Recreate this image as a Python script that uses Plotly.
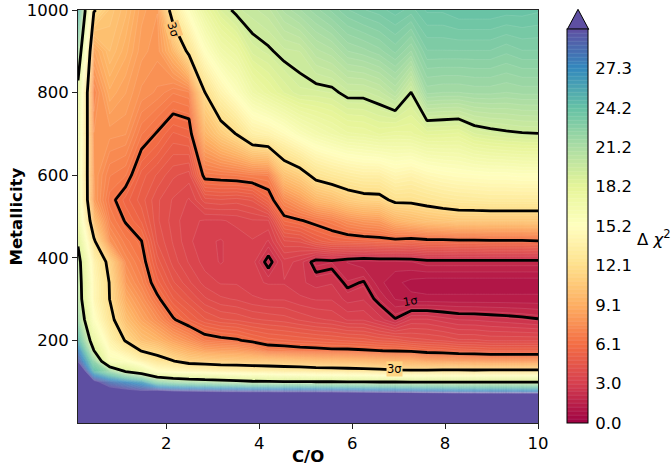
import plotly.graph_objects as go

# ---------------- data ----------------
co_values = [0.100, 0.441, 0.783, 1.124, 1.466, 1.807, 2.148, 2.490, 2.831, 3.172,
             3.514, 3.855, 4.197, 4.538, 4.879, 5.221, 5.562, 5.903, 6.245, 6.586,
             6.928, 7.269, 7.610, 7.952, 8.293, 8.634, 8.976, 9.317, 9.659, 10.000]

metallicity_values = [0, 50, 75, 100, 125, 150, 175, 200, 250, 300,
                      340, 390, 440, 490, 540, 600, 700, 800, 900, 1000]

# Delta chi^2, one list per C/O column, ordered like metallicity_values
dchi2_columns = [
    [300, 120, 70, 45, 35, 30.0, 28.0, 25.1, 22.0, 20.8, 20.6, 20.3, 19.0, 17.5, 17.0, 17.0, 17.5, 18.3, 21.8, 25.5],
    [300, 80, 40, 31.0, 25.0, 22.5, 19.4, 17.5, 15.5, 14.5, 14.5, 14.0, 12.2, 10.0, 8.3, 8.2, 7.9, 7.3, 8.7, 12.0],
    [300, 60, 32, 28.5, 22.0, 15.8, 15.0, 14.0, 12.5, 11.8, 11.72, 11.15, 7.85, 7.0, 6.5, 7.0, 8.0, 9.0, 10.0, 10.5],
    [250, 50, 31.5, 27.2, 19.2, 15.5, 13.5, 11.67, 10.1, 9.0, 8.2, 7.5, 6.8, 6.1, 5.6, 6.7, 7.9, 8.5, 9.2, 9.8],
    [250, 48, 31.0, 26.0, 17.5, 14.0, 11.74, 10.2, 8.7, 7.8, 7.1, 6.6, 6.2, 5.4, 5.0, 5.3, 6.7, 7.8, 8.3, 8.6],
    [250, 46, 31.8, 22.5, 15.3, 12.6, 11.2, 9.5, 7.6, 6.4, 5.6, 5.0, 4.5, 4.3, 4.3, 4.8, 6.1, 7.5, 8.0, 8.2],
    [250, 45, 31.2, 21.5, 14.8, 11.9, 10.0, 8.5, 6.3, 5.2, 4.6, 4.1, 3.9, 3.8, 3.9, 4.3, 5.4, 7.0, 9.5, 13.0],
    [250, 45, 31.0, 21.0, 14.5, 11.0, 9.2, 7.7, 5.5, 4.6, 4.0, 3.6, 3.4, 3.4, 3.6, 4.1, 5.6, 7.2, 12.3, 15.5],
    [250, 45, 30.8, 20.6, 14.3, 10.8, 8.5, 6.7, 4.9, 4.0, 3.5, 3.2, 3.1, 3.3, 4.4, 6.5, 9.5, 11.8, 15.2, 17.5],
    [250, 45, 30.6, 20.3, 14.0, 10.6, 8.3, 6.45, 4.6, 3.7, 3.3, 3.0, 3.0, 3.3, 4.5, 6.6, 10.8, 14.0, 16.8, 18.8],
    [250, 45, 30.5, 20.0, 13.8, 10.5, 8.2, 6.3, 4.5, 3.6, 3.3, 3.2, 3.2, 3.4, 4.4, 6.7, 11.9, 15.5, 17.5, 19.6],
    [250, 45, 30.4, 19.6, 13.6, 10.4, 7.8, 5.9, 4.3, 3.4, 3.1, 3.2, 3.3, 3.6, 4.6, 6.9, 13.6, 17.0, 18.9, 19.9],
    [250, 45, 30.4, 19.5, 13.5, 10.3, 6.9, 5.6, 4.2, 3.3, 3.0, 2.0, 3.0, 3.6, 5.6, 7.0, 14.0, 17.8, 19.2, 20.2],
    [250, 45, 30.3, 19.4, 13.3, 10.2, 6.8, 5.5, 4.1, 3.3, 3.0, 3.2, 4.2, 5.8, 7.4, 10.2, 14.8, 18.5, 19.6, 21.0],
    [250, 45, 30.3, 19.4, 13.2, 10.0, 6.6, 5.4, 3.9, 3.1, 2.8, 2.9, 4.3, 6.1, 8.3, 11.0, 15.8, 19.0, 19.7, 21.5],
    [220, 45, 30.3, 19.3, 13.0, 9.8, 6.5, 5.3, 3.7, 3.0, 2.6, 2.0, 5.0, 6.5, 9.5, 12.4, 16.5, 19.0, 20.5, 22.0],
    [220, 48, 30.2, 19.3, 12.9, 9.7, 6.4, 5.2, 3.6, 3.0, 2.7, 2.1, 5.4, 6.9, 10.0, 12.9, 17.0, 19.1, 20.8, 22.5],
    [220, 47, 30.0, 19.2, 12.8, 9.6, 6.4, 5.1, 3.3, 2.6, 2.15, 1.8, 5.5, 7.6, 10.8, 13.3, 17.5, 19.6, 21.5, 23.0],
    [220, 47, 29.8, 19.1, 12.7, 9.5, 6.3, 5.0, 3.3, 2.7, 2.35, 1.6, 5.6, 8.0, 11.2, 13.6, 17.6, 19.6, 21.7, 23.3],
    [220, 46, 29.6, 19.0, 12.5, 9.3, 6.2, 4.8, 2.9, 2.1, 1.6, 1.7, 5.7, 8.2, 11.3, 13.6, 17.9, 19.9, 22.0, 23.5],
    [220, 46, 29.5, 19.0, 12.3, 9.1, 6.1, 4.7, 2.35, 1.5, 1.3, 1.7, 5.8, 9.3, 12.2, 14.3, 17.7, 20.6, 22.5, 23.8],
    [220, 46, 29.3, 19.0, 12.2, 9.0, 6.0, 4.4, 3.09, 1.3, 1.1, 1.8, 5.6, 9.8, 12.2, 14.0, 17.8, 19.3, 21.8, 23.5],
    [220, 45.5, 29.0, 19.0, 12.3, 8.5, 5.7, 4.3, 3.09, 1.3, 1.0, 2.0, 5.8, 10.2, 12.5, 14.5, 18.25, 21.6, 23.0, 24.0],
    [220, 45.3, 28.8, 19.0, 12.4, 8.3, 5.6, 4.2, 2.9, 1.3, 1.0, 2.0, 5.8, 10.4, 12.8, 14.8, 18.2, 21.5, 23.0, 24.0],
    [220, 45.2, 28.6, 19.0, 12.4, 8.2, 5.4, 4.0, 2.73, 1.3, 1.0, 2.0, 5.9, 10.6, 13.0, 15.0, 18.1, 21.5, 23.0, 24.2],
    [220, 45.1, 28.5, 19.0, 12.4, 8.1, 5.3, 4.0, 2.7, 1.3, 1.0, 2.0, 5.9, 10.6, 13.1, 15.1, 18.76, 21.6, 23.0, 24.2],
    [220, 45, 28.4, 19.0, 12.5, 8.0, 5.2, 3.9, 2.62, 1.3, 1.0, 2.0, 6.0, 10.6, 13.2, 15.2, 18.99, 21.6, 23.0, 24.2],
    [220, 45, 28.4, 19.0, 12.5, 8.0, 5.2, 3.9, 2.55, 1.3, 1.0, 2.0, 6.0, 10.6, 13.2, 15.2, 19.16, 21.5, 22.8, 24.1],
    [220, 45, 28.3, 19.0, 12.5, 8.0, 5.2, 3.9, 2.46, 1.3, 1.0, 2.0, 6.0, 10.6, 13.2, 15.3, 19.26, 21.6, 23.0, 24.1],
    [220, 45, 28.3, 19.0, 12.5, 8.0, 5.2, 3.9, 2.35, 1.3, 1.0, 2.0, 6.1, 10.6, 13.2, 15.3, 19.3, 21.6, 23.0, 24.0],
]

sigma_levels = [2.30, 6.18, 11.83, 19.33]

cbar_tickvals = [0.0, 3.03, 6.06, 9.09, 12.12, 15.15, 18.18, 21.21, 24.24, 27.27]
cbar_ticktext = ["0.0", "3.0", "6.1", "9.1", "12.1", "15.2", "18.2", "21.2", "24.2", "27.3"]

x_ticks = [2, 4, 6, 8, 10]
y_ticks = [200, 400, 600, 800, 1000]

z_max = 30.3
n_levels = 100

# ---------------- figure ----------------
z = [list(row) for row in zip(*dchi2_columns)]   # rows = metallicity, cols = C/O

FONT = "DejaVu Sans"
W, H = 671, 470
L, T = 78, 10
pw, ph = 460, 413
R, B = W - L - pw, H - T - ph


def px_x(p):       # page pixel -> paper x
    return (p - L) / pw


def px_y(p):       # page pixel -> paper y
    return (T + ph - p) / ph


fig = go.Figure()

fig.add_trace(go.Contour(
    x=co_values, y=metallicity_values, z=z,
    colorscale="Spectral", zmin=0, zmax=z_max, autocontour=False,
    contours=dict(start=0, end=z_max, size=z_max / n_levels,
                  coloring="fill", showlines=True),
    line=dict(width=0.5, color="rgba(255,255,255,0.22)", smoothing=0),
    colorbar=dict(
        x=px_x(567.3), xanchor="left", xpad=0,
        y=0, yanchor="bottom", ypad=0,
        len=(423.3 - 29.3) / ph, lenmode="fraction",
        thickness=21, thicknessmode="pixels",
        outlinecolor="black", outlinewidth=1,
        tickmode="array", tickvals=cbar_tickvals, ticktext=cbar_ticktext,
        ticks="outside", ticklen=4, tickcolor="rgba(0,0,0,0)",
        tickfont=dict(family=FONT, size=16.5, color="black"),
    ),
    hoverinfo="skip",
))

for lvl in sigma_levels:
    fig.add_trace(go.Contour(
        x=co_values, y=metallicity_values, z=z, autocontour=False,
        contours=dict(start=lvl, end=lvl + 0.01, size=1,
                      coloring="none", showlines=True),
        line=dict(color="black", width=2.8, smoothing=0),
        showscale=False, hoverinfo="skip",
    ))

# colorbar "extend max" arrow
x0, x1 = px_x(567.3), px_x(588.7)
fig.add_shape(type="path", xref="paper", yref="paper",
              path=f"M {x0},{px_y(29.3)} L {x1},{px_y(29.3)} L {(x0 + x1) / 2},{px_y(9.3)} Z",
              fillcolor="#5e4fa2", line=dict(color="black", width=1))

annots = [
    dict(x=2.16, y=952, xref="x", yref="y", text="3σ", textangle=72,
         font=dict(family=FONT, size=11.5, color="black"),
         showarrow=False, bgcolor="rgb(253,196,118)", borderpad=0),
    dict(x=6.92, y=131, xref="x", yref="y", text="3σ", textangle=0,
         font=dict(family=FONT, size=11.5, color="black"),
         showarrow=False, bgcolor="rgb(254,214,132)", borderpad=0),
    dict(x=7.25, y=296, xref="x", yref="y", text="1σ", textangle=-10,
         font=dict(family=FONT, size=11.5, color="black"),
         showarrow=False),
    dict(x=px_x(635), y=px_y(238), xref="paper", yref="paper",
         text="Δ <i>χ</i><sup>2</sup>", xanchor="left", yanchor="middle",
         font=dict(family=FONT, size=16.5, color="black"), showarrow=False),
    dict(x=0.5, y=px_y(456), xref="paper", yref="paper", text="<b>C/O</b>",
         font=dict(family=FONT, size=16.5, color="black"), showarrow=False,
         yanchor="middle"),
    dict(x=px_x(16), y=0.5, xref="paper", yref="paper", text="<b>Metallicity</b>",
         textangle=-90, font=dict(family=FONT, size=16.5, color="black"),
         showarrow=False, xanchor="center"),
]

axis_common = dict(showgrid=False, zeroline=False, showline=True, mirror=True,
                   linecolor="#222", linewidth=1, ticks="outside", ticklen=5,
                   tickwidth=1, tickcolor="#222", ticklabeloverflow="allow",
                   tickfont=dict(family=FONT, size=16.5, color="black"))

fig.update_layout(
    width=W, height=H,
    margin=dict(l=L, r=R, t=T, b=B, autoexpand=False),
    paper_bgcolor="white", plot_bgcolor="white",
    font=dict(family=FONT, color="black"),
    xaxis=dict(range=[0.1, 10], tickvals=x_ticks, **axis_common),
    yaxis=dict(range=[0, 1000], tickvals=y_ticks, **axis_common),
    annotations=annots,
    showlegend=False,
)

# remove the browser's default page margin so the figure sits at the page corner
fig.write_html("out.html",
               config={"displayModeBar": False, "staticPlot": True},
               post_script="document.body.style.margin='0';document.body.style.padding='0';")
